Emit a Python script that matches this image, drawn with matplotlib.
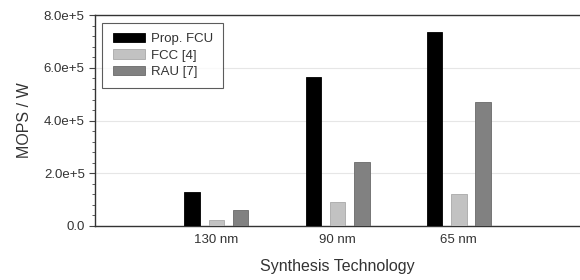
import matplotlib.pyplot as plt
from matplotlib.ticker import MultipleLocator
import numpy as np

plt.rcParams['font.family'] = ['Liberation Sans', 'DejaVu Sans']

techs = ["130 nm", "90 nm", "65 nm"]
prop_fcu = [1.29e5, 5.64e5, 7.38e5]
fcc = [0.22e5, 0.89e5, 1.19e5]
rau = [0.60e5, 2.41e5, 4.69e5]

fig = plt.figure(figsize=(5.8, 2.8), dpi=100)
ax = fig.add_axes([0.164, 0.194, 0.836, 0.751])

x = np.arange(1, len(techs) + 1)
w = 0.128
ax.bar(x - 0.2, prop_fcu, w, color="black", edgecolor="black", linewidth=0.6, label="Prop. FCU", zorder=3)
ax.bar(x, fcc, w, color="#c2c2c2", edgecolor="#a8a8a8", linewidth=0.6, label="FCC [4]", zorder=3)
ax.bar(x + 0.2, rau, w, color="#818181", edgecolor="#6a6a6a", linewidth=0.6, label="RAU [7]", zorder=3)

ax.set_xlim(0, 4)
ax.set_ylim(0, 8e5)
ax.set_xticks(x)
ax.set_xticklabels(techs, fontsize=9.5, color="#333333")
ax.tick_params(axis="x", length=0, pad=6)
ax.set_yticks([0, 2e5, 4e5, 6e5, 8e5])
ax.set_yticklabels(["0.0", "2.0e+5", "4.0e+5", "6.0e+5", "8.0e+5"], fontsize=9.5, color="#333333")
ax.yaxis.set_minor_locator(MultipleLocator(0.4e5))
ax.tick_params(axis="y", which="major", length=4, width=0.8, color="#444444")
ax.tick_params(axis="y", which="minor", length=2, width=0.6, color="#444444")
ax.grid(axis="y", color="#e6e6e6", linewidth=0.8, zorder=0)

for s in ["left", "bottom", "top"]:
    ax.spines[s].set_color("#333333")
    ax.spines[s].set_linewidth(1.0)
ax.spines["right"].set_visible(False)

ax.set_ylabel("MOPS / W", fontsize=11.5, color="#333333", labelpad=8.5)
ax.set_xlabel("Synthesis Technology", fontsize=11.5, color="#333333", labelpad=9)

leg = ax.legend(loc="upper left", bbox_to_anchor=(0.0, 1.0), borderaxespad=0.55, fontsize=9.5,
                frameon=True, fancybox=False, edgecolor="#333333", handlelength=2.4,
                handleheight=0.7, handletextpad=0.45, borderpad=0.8, labelspacing=0.3)
leg.get_frame().set_linewidth(0.8)
for t in leg.get_texts():
    t.set_color("#333333")

plt.savefig("out.png", dpi=100)
